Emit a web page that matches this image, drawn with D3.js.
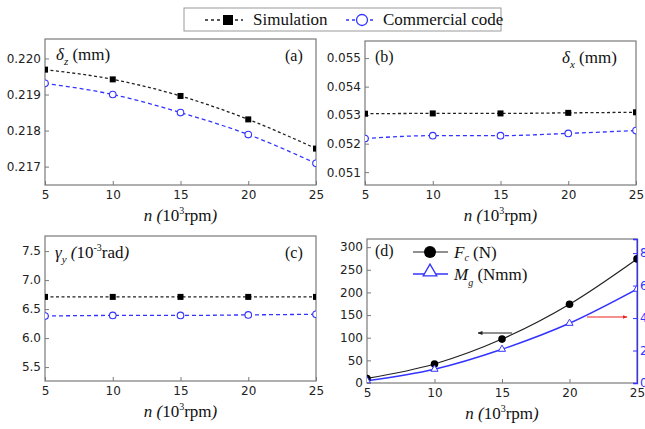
<!DOCTYPE html>
<html>
<head>
<meta charset="utf-8">
<script src="https://cdn.jsdelivr.net/npm/d3@7"></script>
<style>
	body { margin: 0; background: #fff; }
	svg { display: block; }
	.tick text { font-family: 'DejaVu Sans', Verdana, sans-serif; font-size: 12px; fill: #222; }
	.serif { font-family: 'Liberation Serif', 'Times New Roman', serif; fill: #111; }
</style>
</head>
<body>
<svg id="chart" width="645" height="429"></svg>
<script>
// speed in 10^3 rpm
let speeds = [5, 10, 15, 20, 25];
let xTicks = [5, 10, 15, 20, 25];

// (a) delta z, mm
let dzSim = [0.21969, 0.21942, 0.21896, 0.21831, 0.21750];
let dzCom = [0.21931, 0.21900, 0.21850, 0.21789, 0.21709];
let dzTicks = [0.217, 0.218, 0.219, 0.220];

// (b) delta x, mm
let dxSim = [0.05305, 0.05306, 0.05306, 0.05308, 0.05310];
let dxCom = [0.05218, 0.05228, 0.05228, 0.05236, 0.05246];
let dxTicks = [0.051, 0.052, 0.053, 0.054, 0.055];

// (c) gamma y, 10^-3 rad
let gySim = [6.71, 6.71, 6.71, 6.71, 6.71];
let gyCom = [6.38, 6.39, 6.39, 6.40, 6.41];
let gyTicks = [5.5, 6.0, 6.5, 7.0, 7.5];

// (d) Fc (N) on the left, Mg (Nmm) on the right
let fc = [10, 42, 97, 174, 274];
let mg = [0.14, 0.85, 2.08, 3.68, 5.78];
let fcTicks = [0, 50, 100, 150, 200, 250, 300];
let mgTicks = [0, 2, 4, 6, 8];

let svg = d3.select('#chart');
let blue = '#3333ff';
let frame = '#7a7a7a';

function panel (id, box, yDomain, yTicks, yFormat) {
	let x = d3.scaleLinear().domain([5, 25]).range([box.x0, box.x1]);
	let y = d3.scaleLinear().domain(yDomain).range([box.y1, box.y0]);
	let g = svg.append('g').attr('class', 'panel-' + id);

	svg.append('clipPath').attr('id', 'clip-' + id)
		.append('rect')
		.attr('x', box.x0).attr('y', box.y0)
		.attr('width', box.x1 - box.x0).attr('height', box.y1 - box.y0);

	let xa = g.append('g')
		.attr('transform', 'translate(0,' + box.y1 + ')')
		.call(d3.axisBottom(x).tickValues(xTicks).tickSize(-4).tickPadding(5).tickFormat(d3.format('d')));
	let ya = g.append('g')
		.attr('transform', 'translate(' + box.x0 + ',0)')
		.call(d3.axisLeft(y).tickValues(yTicks).tickSize(-4).tickPadding(4).tickFormat(yFormat));
	[xa, ya].forEach((a) => {
		a.select('.domain').remove();
		a.selectAll('.tick line').attr('stroke', frame);
	});

	g.append('rect')
		.attr('x', box.x0).attr('y', box.y0)
		.attr('width', box.x1 - box.x0).attr('height', box.y1 - box.y0)
		.attr('fill', 'none').attr('stroke', frame).attr('stroke-width', 1.2);

	// x title: n (10^3 rpm)
	let t = g.append('text').attr('class', 'serif')
		.attr('x', (box.x0 + box.x1) / 2).attr('y', box.y1 + 36)
		.attr('text-anchor', 'middle').style('font-size', '17px');
	t.append('tspan').attr('font-style', 'italic').text('n (');
	t.append('tspan').text('10');
	t.append('tspan').attr('dy', -7).style('font-size', '10px').text('3');
	t.append('tspan').attr('dy', 7).text('rpm');
	t.append('tspan').attr('font-style', 'italic').text(')');

	return { x: x, y: y, g: g, clip: 'url(#clip-' + id + ')' };
}

function dashedSeries (p, values, color, dash, marker) {
	let data = speeds.map((s, i) => ({ s: s, v: values[i] }));
	let line = d3.line().x((d) => p.x(d.s)).y((d) => p.y(d.v)).curve(d3.curveMonotoneX);
	let layer = p.g.append('g').attr('clip-path', p.clip);
	layer.append('path').datum(data)
		.attr('d', line)
		.attr('fill', 'none').attr('stroke', color)
		.attr('stroke-width', 1.3).attr('stroke-dasharray', dash);
	if (marker === 'square') {
		layer.selectAll('rect.m').data(data).enter().append('rect')
			.attr('class', 'm')
			.attr('x', (d) => p.x(d.s) - 3).attr('y', (d) => p.y(d.v) - 3)
			.attr('width', 6).attr('height', 6).attr('fill', '#000');
	} else {
		layer.selectAll('circle.m').data(data).enter().append('circle')
			.attr('class', 'm')
			.attr('cx', (d) => p.x(d.s)).attr('cy', (d) => p.y(d.v))
			.attr('r', 3.3).attr('fill', '#fff').attr('stroke', color).attr('stroke-width', 1.1);
	}
}

function greekLabel (g, x, y, sym, sub, unit, anchor) {
	let t = g.append('text').attr('class', 'serif')
		.attr('x', x).attr('y', y).attr('text-anchor', anchor || 'start')
		.style('font-size', '17px');
	t.append('tspan').attr('font-style', 'italic').text(sym);
	t.append('tspan').attr('dy', 5).attr('font-style', 'italic').style('font-size', '11px').text(sub);
	t.append('tspan').attr('dy', -5).text(' ' + unit);
	return t;
}

function tag (g, x, y, s) {
	g.append('text').attr('class', 'serif')
		.attr('x', x).attr('y', y).style('font-size', '16px').text(s);
}

// (a)
let pa = panel('a', { x0: 45, x1: 316, y0: 39, y1: 185 }, [0.21649, 0.22054], dzTicks, d3.format('.3f'));
dashedSeries(pa, dzSim, '#222', '3,2.5', 'square');
dashedSeries(pa, dzCom, blue, '4,3', 'circle');
greekLabel(pa.g, 56, 60, 'δ', 'z', '(mm)');
tag(pa.g, 285, 61, '(a)');

// (b)
let pb = panel('b', { x0: 365, x1: 636, y0: 41, y1: 185 }, [0.05055, 0.0556], dxTicks, d3.format('.3f'));
dashedSeries(pb, dxSim, '#222', '3,2.5', 'square');
dashedSeries(pb, dxCom, blue, '4,3', 'circle');
greekLabel(pb.g, 562, 63, 'δ', 'x', '(mm)');
tag(pb.g, 375, 62, '(b)');

// (c)
let pc = panel('c', { x0: 45, x1: 316, y0: 236, y1: 381 }, [5.26, 7.76], gyTicks, d3.format('.1f'));
dashedSeries(pc, gySim, '#222', '3,2.5', 'square');
dashedSeries(pc, gyCom, blue, '4,3', 'circle');
let gl = pc.g.append('text').attr('class', 'serif')
	.attr('x', 55).attr('y', 258).style('font-size', '17px');
gl.append('tspan').attr('font-style', 'italic').text('γ');
gl.append('tspan').attr('dy', 5).attr('font-style', 'italic').style('font-size', '11px').text('y');
gl.append('tspan').attr('dy', -5).attr('font-style', 'italic').text('  (');
gl.append('tspan').text('10');
gl.append('tspan').attr('dy', -7).style('font-size', '10px').text('-3');
gl.append('tspan').attr('dy', 7).text('rad');
gl.append('tspan').attr('font-style', 'italic').text(')');
tag(pc.g, 285, 258, '(c)');

// (d)
let pd = panel('d', { x0: 367, x1: 637, y0: 239, y1: 383 }, [0, 318], fcTicks, d3.format('d'));
let yR = d3.scaleLinear().domain([0, 8.87]).range([383, 239]);
let ra = pd.g.append('g')
	.attr('transform', 'translate(637,0)')
	.call(d3.axisRight(yR).tickValues(mgTicks).tickSize(-4).tickPadding(3).tickFormat(d3.format('d')));
ra.select('.domain').attr('stroke', blue).attr('stroke-width', 1.3);
ra.selectAll('.tick line').attr('stroke', blue);
ra.selectAll('.tick text').style('fill', blue);

let fcData = speeds.map((s, i) => ({ s: s, v: fc[i] }));
let mgData = speeds.map((s, i) => ({ s: s, v: mg[i] }));
let dl = pd.g.append('g').attr('clip-path', pd.clip);
dl.append('path').datum(fcData)
	.attr('d', d3.line().x((d) => pd.x(d.s)).y((d) => pd.y(d.v)).curve(d3.curveMonotoneX))
	.attr('fill', 'none').attr('stroke', '#222').attr('stroke-width', 1.2);
dl.append('path').datum(mgData)
	.attr('d', d3.line().x((d) => pd.x(d.s)).y((d) => yR(d.v)).curve(d3.curveMonotoneX))
	.attr('fill', 'none').attr('stroke', blue).attr('stroke-width', 1.4);
dl.selectAll('circle.fc').data(fcData).enter().append('circle')
	.attr('class', 'fc')
	.attr('cx', (d) => pd.x(d.s)).attr('cy', (d) => pd.y(d.v)).attr('r', 3.8).attr('fill', '#000');
let tri = d3.symbol().type(d3.symbolTriangle).size(22);
dl.selectAll('path.mg').data(mgData).enter().append('path')
	.attr('class', 'mg')
	.attr('transform', (d) => 'translate(' + pd.x(d.s) + ',' + yR(d.v) + ')')
	.attr('d', tri).attr('fill', '#fff').attr('stroke', blue).attr('stroke-width', 1);

tag(pd.g, 375, 256, '(d)');
// inner legend of (d)
pd.g.append('line').attr('x1', 413).attr('x2', 448).attr('y1', 252).attr('y2', 252).attr('stroke', '#222').attr('stroke-width', 1.2);
pd.g.append('circle').attr('cx', 430).attr('cy', 252).attr('r', 6).attr('fill', '#000');
pd.g.append('line').attr('x1', 413).attr('x2', 448).attr('y1', 274).attr('y2', 274).attr('stroke', blue).attr('stroke-width', 1.4);
pd.g.append('path').attr('transform', 'translate(430,272)')
	.attr('d', d3.symbol().type(d3.symbolTriangle).size(80))
	.attr('fill', '#fff').attr('stroke', blue).attr('stroke-width', 1.3);
let fl = pd.g.append('text').attr('class', 'serif').attr('x', 454).attr('y', 258).style('font-size', '17px');
fl.append('tspan').attr('font-style', 'italic').text('F');
fl.append('tspan').attr('dy', 3).attr('font-style', 'italic').style('font-size', '10px').text('c');
fl.append('tspan').attr('dy', -3).text(' (N)');
let ml = pd.g.append('text').attr('class', 'serif').attr('x', 454).attr('y', 280).style('font-size', '17px');
ml.append('tspan').attr('font-style', 'italic').text('M');
ml.append('tspan').attr('dy', 6).attr('font-style', 'italic').style('font-size', '10px').text('g');
ml.append('tspan').attr('dy', -6).text(' (Nmm)');

// arrows pointing to the axes
let defs = svg.append('defs');
[['ah-black', '#222'], ['ah-red', '#e22']].forEach((m) => {
	defs.append('marker').attr('id', m[0])
		.attr('viewBox', '0 0 10 10').attr('refX', 9).attr('refY', 5)
		.attr('markerWidth', 5).attr('markerHeight', 5).attr('orient', 'auto')
		.append('path').attr('d', 'M0,1 L10,5 L0,9 Z').attr('fill', m[1]);
});
pd.g.append('line').attr('x1', 512).attr('x2', 478).attr('y1', 333).attr('y2', 333)
	.attr('stroke', '#222').attr('stroke-width', 1).attr('marker-end', 'url(#ah-black)');
pd.g.append('line').attr('x1', 587).attr('x2', 627).attr('y1', 317).attr('y2', 317)
	.attr('stroke', '#e22').attr('stroke-width', 1).attr('marker-end', 'url(#ah-red)');

// top legend
let lg = svg.append('g');
lg.append('rect').attr('x', 184).attr('y', 8).attr('width', 317).attr('height', 23)
	.attr('fill', '#fff').attr('stroke', '#999').attr('stroke-width', 1);
lg.append('line').attr('x1', 205).attr('x2', 243).attr('y1', 20).attr('y2', 20)
	.attr('stroke', '#222').attr('stroke-width', 1.3).attr('stroke-dasharray', '3,3');
lg.append('rect').attr('x', 223).attr('y', 15).attr('width', 10).attr('height', 10).attr('fill', '#000');
lg.append('text').attr('class', 'serif').attr('x', 253).attr('y', 25).style('font-size', '17px').text('Simulation');
lg.append('line').attr('x1', 346).attr('x2', 376).attr('y1', 20).attr('y2', 20)
	.attr('stroke', blue).attr('stroke-width', 1.3).attr('stroke-dasharray', '3,3');
lg.append('circle').attr('cx', 362).attr('cy', 20).attr('r', 5.5)
	.attr('fill', '#fff').attr('stroke', blue).attr('stroke-width', 1.3);
lg.append('text').attr('class', 'serif').attr('x', 383).attr('y', 25).style('font-size', '17px').text('Commercial code');
</script>
</body>
</html>
